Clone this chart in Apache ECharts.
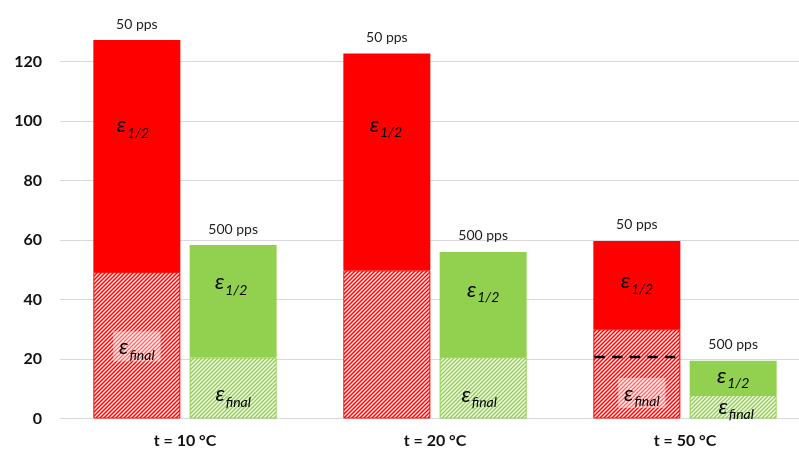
<!DOCTYPE html>
<html>
<head>
<meta charset="utf-8">
<script src="https://cdn.jsdelivr.net/npm/echarts@6/dist/echarts.min.js"></script>
<style>
  html, body { margin: 0; padding: 0; background: #fff; overflow: hidden; }
  #chart { width: 811px; height: 450px; }
</style>
</head>
<body>
<div id="chart"></div>
<script>
// Strain per test temperature at two pulse rates
const categories = ['t = 10 °C', 't = 20 °C', 't = 50 °C'];
const epsHalf50 = [127.2, 122.7, 59.7];   // ε1/2 at 50 pps (bar top)
const epsFinal50 = [49.2, 49.8, 30.0];    // εfinal at 50 pps (hatched part)
const epsHalf500 = [58.3, 56.0, 19.4];    // ε1/2 at 500 pps
const epsFinal500 = [20.5, 20.6, 7.9];    // εfinal at 500 pps
const rateLabels = ['50 pps', '500 pps'];
const refLine = { category: 2, value: 20.7 }; // dashed level inside the 50 °C / 50 pps bar
const yMin = 0, yMax = 120, yStep = 20;

const RED = '#ff0000';
const GREEN = '#92d050';
const FONT = 'Lato, "Open Sans", "DejaVu Sans", sans-serif';
const BAR_W = 87;
const BAR_GAP = '10.7%';

// Diagonal hatch tile ("/" stripes)
function hatch(bg, fg, lw) {
  const size = 4;
  const c = document.createElement('canvas');
  c.width = size; c.height = size;
  const ctx = c.getContext('2d');
  ctx.fillStyle = bg;
  ctx.fillRect(0, 0, size, size);
  ctx.strokeStyle = fg;
  ctx.lineWidth = lw;
  ctx.beginPath();
  ctx.moveTo(-1, size + 1); ctx.lineTo(size + 1, -1);
  ctx.moveTo(-1, 1); ctx.lineTo(1, -1);
  ctx.moveTo(size - 1, size + 1); ctx.lineTo(size + 1, size - 1);
  ctx.stroke();
  return { image: c, repeat: 'repeat' };
}
const redHatch = hatch(RED, '#ffffff', 1.3);
const greenHatch = hatch('#ffffff', GREEN, 1.5);

const epsRich = {
  e: { fontFamily: FONT, fontStyle: 'italic', fontSize: 22, color: '#000', verticalAlign: 'top', lineHeight: 22 },
  s: { fontFamily: FONT, fontStyle: 'italic', fontSize: 14, color: '#000', verticalAlign: 'top', lineHeight: 14, padding: [12, 0, 0, 1] }
};
const halfText = '{e|ε}{s|1/2}';
const finalText = '{e|ε}{s|final}';

// label placement inside each segment: [dx, dy] or null for no label
const halfPos50 = [[-4, -31], [-1, -37], [0, -4]];
const finalPos50 = [[0, 1], null, [5, 19]];
const halfPos500 = [[-2, -19], [0, -15], [0, -2]];
const finalPos500 = [[0, 6], [-4, 7], [3, 0]];

function segData(values, pos, text, boxed) {
  return values.map((v, i) => ({
    value: v,
    label: pos[i] ? {
      show: true, position: 'inside', offset: pos[i], formatter: text, rich: epsRich,
      backgroundColor: boxed ? 'rgba(255,255,255,0.42)' : 'transparent',
      padding: boxed ? [5, 6, 3, 6] : 0
    } : { show: false }
  }));
}

const upper50 = epsHalf50.map((v, i) => +(v - epsFinal50[i]).toFixed(2));
const upper500 = epsHalf500.map((v, i) => +(v - epsFinal500[i]).toFixed(2));

const rateLabel = (txt) => ({
  show: true, position: 'top', distance: 9, formatter: txt,
  fontFamily: FONT, fontSize: 14, color: '#222'
});

const chart = echarts.init(document.getElementById('chart'));
chart.setOption({
  animation: false,
  grid: { left: 60, top: 61.5, right: 1, height: 357, containLabel: false },
  xAxis: {
    type: 'category',
    data: categories,
    axisLine: { lineStyle: { color: '#d9d9d9', width: 1 } },
    axisTick: { show: false },
    axisLabel: { fontFamily: FONT, fontWeight: 'bold', fontSize: 16, color: '#111', margin: 14 }
  },
  yAxis: {
    type: 'value',
    min: yMin, max: yMax, interval: yStep,
    axisLine: { show: false },
    axisTick: { show: false },
    splitLine: { lineStyle: { color: '#d9d9d9', width: 1 } },
    axisLabel: { fontFamily: FONT, fontWeight: 'bold', fontSize: 16, color: '#111', margin: 18 }
  },
  series: [
    {
      name: 'εfinal 50 pps', type: 'bar', stack: 'r', barWidth: BAR_W, barGap: BAR_GAP, clip: false,
      itemStyle: { color: redHatch, borderColor: RED, borderWidth: 1 },
      data: segData(epsFinal50, finalPos50, finalText, true)
    },
    {
      name: 'ε1/2 50 pps', type: 'bar', stack: 'r', barWidth: BAR_W, barGap: BAR_GAP, clip: false,
      itemStyle: { color: RED },
      data: segData(upper50, halfPos50, halfText, false)
    },
    {
      name: '50 pps', type: 'bar', stack: 'r', barWidth: BAR_W, barGap: BAR_GAP, clip: false,
      itemStyle: { color: 'transparent' },
      label: rateLabel(rateLabels[0]),
      data: categories.map(() => 0)
    },
    {
      name: 'εfinal 500 pps', type: 'bar', stack: 'g', barWidth: BAR_W, barGap: BAR_GAP, clip: false,
      itemStyle: { color: greenHatch, borderColor: GREEN, borderWidth: 1 },
      data: segData(epsFinal500, finalPos500, finalText, false)
    },
    {
      name: 'ε1/2 500 pps', type: 'bar', stack: 'g', barWidth: BAR_W, barGap: BAR_GAP, clip: false,
      itemStyle: { color: GREEN },
      data: segData(upper500, halfPos500, halfText, false)
    },
    {
      name: '500 pps', type: 'bar', stack: 'g', barWidth: BAR_W, barGap: BAR_GAP, clip: false,
      itemStyle: { color: 'transparent' },
      label: rateLabel(rateLabels[1]),
      data: categories.map(() => 0)
    },
    {
      name: 'level', type: 'custom', z: 10, clip: false,
      encode: { x: 0, y: 1 },
      data: [[refLine.category, refLine.value]],
      renderItem: function (params, api) {
        const c = api.coord([api.value(0), api.value(1)]);
        const gapPx = BAR_W * 0.107;
        const right = c[0] - gapPx / 2;
        const left = right - BAR_W;
        return {
          type: 'line',
          shape: { x1: left + 1, y1: c[1], x2: right - 5, y2: c[1] },
          style: { stroke: '#000', lineWidth: 2.5, lineDash: [10.5, 7.2] }
        };
      }
    }
  ]
});
</script>
</body>
</html>
